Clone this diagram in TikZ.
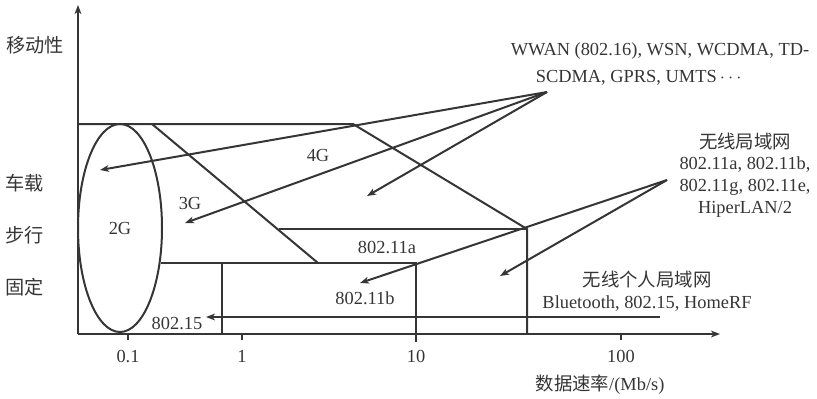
\documentclass[tikz,border=0pt]{standalone}
\usepackage{fontspec}
\setmainfont{Liberation Serif}
\newfontfamily\cjk{Noto Sans CJK SC}
\usepackage{tikz}
\usetikzlibrary{arrows.meta, shapes.geometric}
\definecolor{ink}{HTML}{353535}

\begin{document}
\begin{tikzpicture}[x=0.5pt, y=-0.5pt, line width=1pt, color=ink,
    every node/.style={inner sep=0pt, font=\fontsize{9.2}{11}\selectfont},
    ptr/.style={-{Stealth[length=4.5pt, width=3.4pt, inset=1.3pt]}},
    axislbl/.style={font=\fontsize{9.6}{11}\selectfont\cjk}]
    \useasboundingbox (0,0) rectangle (817,398);
    \coordinate (O) at (78,334);
    \coordinate (ytop) at (78,5);
    \coordinate (xend) at (720,334);
    \draw[ptr] (O) -- (ytop);
    \draw[ptr] (O) -- (xend);
    \foreach \x/\v/\n in {128/0.1/a, 242/1/b, 416/10/c, 621/100/d} {
        \draw (\x,334) -- (\x,340);
        \node (tick\n) at (\x,356) {\v};
    }
    \node[axislbl] (mobility) at (35,45) {移动性};
    \node[axislbl] (vehicle) at (25,183) {车载};
    \node[axislbl] (walking) at (25,235) {步行};
    \node[axislbl] (fixed) at (25,287) {固定};
    \node (rate) at (600,385) {{\cjk 数据速率}/(Mb/s)};

    \coordinate (cellA) at (78,124);
    \coordinate (cellB) at (353,124);
    \coordinate (lanR) at (527,229);
    \coordinate (lanRb) at (527,334);
    \coordinate (g3A) at (152,124);
    \coordinate (g3B) at (318,263);
    \coordinate (lanL) at (279,229);
    \coordinate (panA) at (161,263);
    \coordinate (panB) at (416,263);
    \coordinate (panBb) at (416,342);
    \coordinate (panC) at (222,263);
    \coordinate (panCb) at (222,334);
    \draw (cellA) -- (cellB) -- (lanR) -- (lanRb);
    \draw (g3A) -- (g3B);
    \draw (lanL) -- (lanR);
    \draw (panA) -- (panB) -- (panBb);
    \draw (panC) -- (panCb);

    \node[draw, ellipse, minimum width=42pt, minimum height=104pt] (gen2) at (120,228) {2G};
    \node (gen3) at (190,203) {3G};
    \node (gen4) at (318,155) {4G};
    \node (wifiA) at (387,248) {802.11a};
    \node (wifiB) at (365,298) {802.11b};
    \node (bt) at (177,323) {802.15};

    \node[align=left, font=\fontsize{9.2}{13.5}\selectfont] (wwan) at (660,64)
        {WWAN (802.16), WSN, WCDMA, TD-\\\hspace{12.5pt}SCDMA, GPRS, UMTS\,$\cdots$};
    \node[align=center, font=\fontsize{9.2}{10.9}\selectfont] (wlan) at (745,175)
        {{\cjk 无线局域网}\\802.11a, 802.11b,\\802.11g, 802.11e,\\HiperLAN/2};
    \node[align=center] (wpan) at (647,291)
        {{\cjk 无线个人局域网}\\Bluetooth, 802.15, HomeRF};

    \coordinate (wwanSrc) at (547,92);
    \coordinate (wlanSrc) at (667,180);
    \coordinate (tip2G) at (100,170);
    \coordinate (tip3G) at (185,223);
    \coordinate (tip4G) at (367,196);
    \coordinate (tipB) at (360,283);
    \coordinate (tipLan) at (500,276);
    \coordinate (panSrc) at (660,317);
    \coordinate (tipPan) at (206,317);
    \foreach \t in {tip2G, tip3G, tip4G}
        \draw[ptr] (wwanSrc) -- (\t);
    \foreach \t in {tipB, tipLan}
        \draw[ptr] (wlanSrc) -- (\t);
    \draw[ptr] (panSrc) -- (tipPan);
\end{tikzpicture}
\end{document}
